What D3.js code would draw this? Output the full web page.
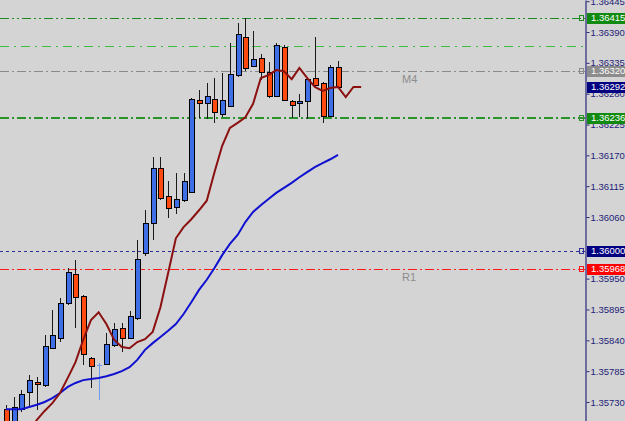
<!DOCTYPE html>
<html>
<head>
<meta charset="utf-8">
<script src="https://cdn.jsdelivr.net/npm/d3@7"></script>
<style>
  body { margin: 0; background: #d4d4d4; }
  svg { display: block; }
</style>
</head>
<body>
<script>
// candle data, one entry per bar
var opens = [1.35717, 1.35692, 1.35717, 1.35748, 1.35766, 1.35760, 1.35826, 1.35844, 1.35907, 1.35958,
  1.35919, 1.35808, 1.35796, 1.35798, 1.35832, 1.35862, 1.35844, 1.35880, 1.35996, 1.36049,
  1.36147, 1.36097, 1.36078, 1.36090, 1.36105, 1.36269, 1.36263, 1.36270, 1.36244, 1.36258,
  1.36313, 1.36381, 1.36329, 1.36344, 1.36319, 1.36276, 1.36363, 1.36267, 1.36263, 1.36267,
  1.36308, 1.36299, 1.36240, 1.36328];
var highs = [1.35725, 1.35739, 1.35751, 1.35778, 1.35774, 1.35849, 1.35894, 1.35915, 1.35969, 1.35983,
  1.35921, 1.35810, 1.35799, 1.35853, 1.35871, 1.35871, 1.35892, 1.36019, 1.36072, 1.36167,
  1.36167, 1.36124, 1.36138, 1.36138, 1.36272, 1.36287, 1.36299, 1.36308, 1.36317, 1.36370,
  1.36406, 1.36415, 1.36392, 1.36351, 1.36336, 1.36370, 1.36367, 1.36268, 1.36279, 1.36306,
  1.36381, 1.36300, 1.36331, 1.36338];
var lows = [1.35684, 1.35687, 1.35712, 1.35721, 1.35716, 1.35757, 1.35824, 1.35837, 1.35903, 1.35862,
  1.35796, 1.35755, 1.35733, 1.35796, 1.35828, 1.35819, 1.35842, 1.35876, 1.35990, 1.36019,
  1.36090, 1.36058, 1.36065, 1.36087, 1.36103, 1.36237, 1.36235, 1.36228, 1.36238, 1.36256,
  1.36310, 1.36320, 1.36328, 1.36304, 1.36272, 1.36274, 1.36267, 1.36237, 1.36238, 1.36235,
  1.36292, 1.36228, 1.36238, 1.36292];
var closes = [1.35691, 1.35721, 1.35744, 1.35769, 1.35762, 1.35830, 1.35849, 1.35907, 1.35962, 1.35917,
  1.35816, 1.35794, 1.35796, 1.35833, 1.35860, 1.35844, 1.35883, 1.35985, 1.36049, 1.36147,
  1.36094, 1.36076, 1.36092, 1.36124, 1.36270, 1.36263, 1.36276, 1.36247, 1.36269, 1.36315,
  1.36386, 1.36326, 1.36342, 1.36319, 1.36276, 1.36367, 1.36269, 1.36260, 1.36267, 1.36306,
  1.36295, 1.36240, 1.36328, 1.36292];

// fast moving average (shifted 3 bars forward) and slow moving average
var fastMA = [null, null, null, 1.35676, 1.35698, 1.35714, 1.35728, 1.35746, 1.35773, 1.35801,
  1.35841, 1.35876, 1.35890, 1.35869, 1.35841, 1.35828, 1.35826, 1.35837, 1.35842, 1.35855,
  1.35899, 1.35960, 1.36022, 1.36042, 1.36056, 1.36072, 1.36089, 1.36140, 1.36187, 1.36219,
  1.36228, 1.36238, 1.36262, 1.36308, 1.36313, 1.36322, 1.36320, 1.36306, 1.36326, 1.36308,
  1.36292, 1.36285, 1.36290, 1.36292, 1.36274, 1.36292, 1.36292];
var slowMA = [1.35717, 1.35717, 1.35717, 1.35721, 1.35725, 1.35730, 1.35737, 1.35746, 1.35757, 1.35764,
  1.35769, 1.35771, 1.35773, 1.35776, 1.35780, 1.35785, 1.35792, 1.35805, 1.35823, 1.35835,
  1.35846, 1.35857, 1.35869, 1.35887, 1.35908, 1.35930, 1.35948, 1.35969, 1.35992, 1.36012,
  1.36028, 1.36051, 1.36069, 1.36081, 1.36092, 1.36103, 1.36112, 1.36121, 1.36131, 1.36140,
  1.36149, 1.36156, 1.36163, 1.36171];

// horizontal levels, their names and which ones get a price box
var levelPrices = [1.36415, 1.36365, 1.36320, 1.36236, 1.36000, 1.35968];
var levelNames = ["", "", "M4", "", "", "R1"];
var levelBoxed = [true, false, true, true, true, true];
var bidPrice = 1.36292;

// 1.36005 sits fully under the 1.36000 box, so it is left out
var tickValues = [1.36445, 1.36390, 1.36335, 1.36280, 1.36225, 1.36170, 1.36115, 1.36060,
  1.35950, 1.35895, 1.35840, 1.35785, 1.35730];

// styles for the levels (same order as levelPrices)
var levelStyles = [
  {color: "#1f8a1f", dash: "9,3,2,3,2,3", width: 1},
  {color: "#3fbf3f", dash: "9,5,2,5", width: 1},
  {color: "#8a8a8a", dash: "9,3,2,3", width: 1},
  {color: "#2a942a", dash: "9,3,2,3", width: 2},
  {color: "#30309a", dash: "3,3", width: 1},
  {color: "#ff1a1a", dash: "9,3,2,3", width: 1}
];
var boxColors = ["#118a11", null, "#8c8c8c", "#118a11", "#000080", "#ff0000"];

var width = 625, height = 421, axisX = 585;

var svg = d3.select("body").append("svg")
    .attr("width", width)
    .attr("height", height);

svg.append("rect")
    .attr("width", width)
    .attr("height", height)
    .attr("fill", "#d4d4d4");

var x = d3.scaleLinear().domain([0, 43]).range([6, 338]);
var y = d3.scaleLinear().domain([1.356961, 1.364471]).range([height, 0]);

svg.append("clipPath").attr("id", "plot")
  .append("rect").attr("width", axisX).attr("height", height);

var plot = svg.append("g").attr("clip-path", "url(#plot)");

// level lines
levelPrices.forEach(function(p, i) {
  var st = levelStyles[i];
  var yy = Math.round(y(p)) + (st.width === 1 ? 0.5 : 0);
  plot.append("line")
      .attr("x1", 0).attr("x2", axisX)
      .attr("y1", yy).attr("y2", yy)
      .attr("stroke", st.color)
      .attr("stroke-width", st.width)
      .attr("stroke-dasharray", st.dash)
      .attr("shape-rendering", "crispEdges");
  if (levelBoxed[i]) {
    plot.append("rect")
        .attr("x", axisX - 5.5).attr("y", Math.round(y(p)) - 2.5)
        .attr("width", 4).attr("height", 5)
        .attr("fill", "none")
        .attr("stroke", st.color)
        .attr("shape-rendering", "crispEdges");
  }
  if (levelNames[i]) {
    plot.append("text")
        .attr("x", 402)
        .attr("y", y(p) + 12)
        .attr("font-family", "Liberation Sans, Arial, sans-serif")
        .attr("font-size", "11px")
        .attr("fill", "#8c8c8c")
        .text(levelNames[i]);
  }
});

// candles
var bars = d3.range(opens.length);

plot.selectAll(".wick")
  .data(bars)
  .enter().append("line")
    .attr("class", "wick")
    .attr("x1", function(i) { return Math.round(x(i)) + 0.5; })
    .attr("x2", function(i) { return Math.round(x(i)) + 0.5; })
    .attr("y1", function(i) { return y(highs[i]); })
    .attr("y2", function(i) { return y(lows[i]); })
    .attr("stroke", function(i) { return opens[i] === closes[i] ? "#6f9cf0" : "#1a1a1a"; })
    .attr("shape-rendering", "crispEdges");

plot.selectAll(".body")
  .data(bars.filter(function(i) { return opens[i] !== closes[i]; }))
  .enter().append("rect")
    .attr("class", "body")
    .attr("x", function(i) { return Math.round(x(i)) - 2 + 0.5; })
    .attr("width", 5)
    .attr("y", function(i) { return Math.round(y(Math.max(opens[i], closes[i]))) + 0.5; })
    .attr("height", function(i) {
      return Math.max(1, Math.round(y(Math.min(opens[i], closes[i]))) - Math.round(y(Math.max(opens[i], closes[i]))));
    })
    .attr("fill", function(i) { return closes[i] > opens[i] ? "#3f6fe6" : "#ff4a10"; })
    .attr("stroke", "#000")
    .attr("shape-rendering", "crispEdges");

// doji ticks
plot.selectAll(".doji")
  .data(bars.filter(function(i) { return opens[i] === closes[i]; }))
  .enter().append("line")
    .attr("class", "doji")
    .attr("x1", function(i) { return Math.round(x(i)) - 2; })
    .attr("x2", function(i) { return Math.round(x(i)) + 3; })
    .attr("y1", function(i) { return Math.round(y(opens[i])) + 0.5; })
    .attr("y2", function(i) { return Math.round(y(opens[i])) + 0.5; })
    .attr("stroke", "#6f9cf0")
    .attr("shape-rendering", "crispEdges");

// moving averages
var maLine = function(values) {
  return d3.line()
    .defined(function(d) { return d != null; })
    .x(function(d, i) { return x(i); })
    .y(function(d) { return y(d); })(values);
};

plot.append("path")
    .attr("d", maLine(slowMA))
    .attr("fill", "none")
    .attr("stroke", "#1010d0")
    .attr("stroke-width", 2);

plot.append("path")
    .attr("d", maLine(fastMA))
    .attr("fill", "none")
    .attr("stroke", "#8b1010")
    .attr("stroke-width", 2);

// price axis
var axis = svg.append("g")
    .attr("transform", "translate(" + (axisX + 0.5) + ",0)")
    .call(d3.axisRight(y)
      .tickValues(tickValues)
      .tickSize(3)
      .tickSizeOuter(0)
      .tickPadding(2)
      .tickFormat(d3.format(".5f")));

axis.select(".domain").attr("stroke", "#4a4a8c").attr("stroke-width", 1.5);
axis.selectAll(".tick line").attr("stroke", "#2a2a7a").attr("transform", "translate(1,0)");
axis.selectAll(".tick text")
    .attr("fill", "#1e1e78")
    .attr("font-family", "Liberation Sans, Arial, sans-serif")
    .attr("font-size", "9.5px");

// price boxes on the axis
var boxes = [];
levelPrices.forEach(function(p, i) {
  if (levelBoxed[i]) boxes.push({price: p, color: boxColors[i]});
});
boxes.push({price: bidPrice, color: "#000080"});

var box = svg.selectAll(".pbox")
  .data(boxes)
  .enter().append("g")
    .attr("class", "pbox")
    .attr("transform", function(d) { return "translate(" + (axisX + 2) + "," + Math.round(y(d.price)) + ")"; });

box.append("rect")
    .attr("x", 0).attr("y", -5)
    .attr("width", width - axisX - 2).attr("height", 11)
    .attr("fill", function(d) { return d.color; });

box.append("text")
    .attr("x", 4)
    .attr("dy", "0.35em")
    .attr("fill", "#fff")
    .attr("font-family", "Liberation Sans, Arial, sans-serif")
    .attr("font-size", "9.5px")
    .text(function(d) { return d3.format(".5f")(d.price); });
</script>
</body>
</html>
